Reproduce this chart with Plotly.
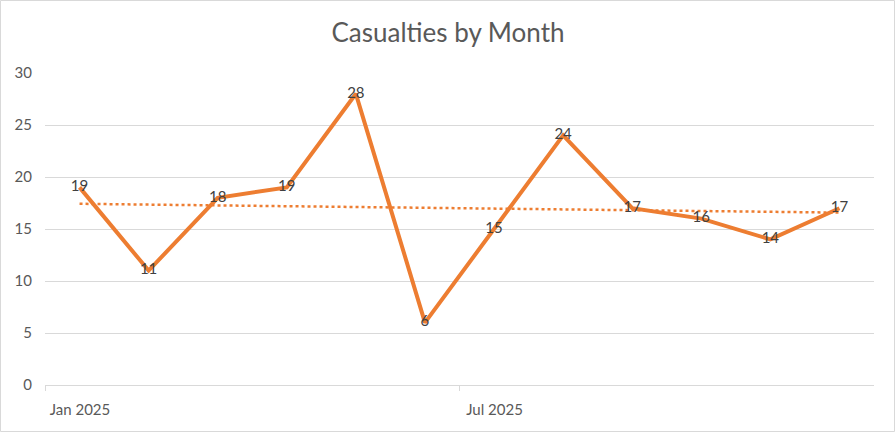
import numpy as np
import plotly.graph_objects as go

# monthly casualties, one slot per month like the source sheet
months = ['Jan 2025', 'Feb 2025', 'Mar 2025', 'Apr 2025', 'May 2025', 'Jun 2025',
          'Jul 2025', 'Aug 2025', 'Sep 2025', 'Oct 2025', 'Nov 2025', 'Dec 2025']
casualties = [19, 11, 18, 19, 28, 6, 15, 24, 17, 16, 14, 17]
tick_labels = ['Jan 2025', 'Jul 2025']

orange = '#ED7D31'
grey_text = '#595959'
grid = '#D9D9D9'

W, H = 896, 433
ml, mr, mt, mb = 45, 22, 73, 48
pw, ph = W - ml - mr, H - mt - mb

idx = np.arange(len(months))
# excel puts the tick mark at the start of the month slot, label in the middle
tick_pos = [months.index(t) - 0.5 for t in tick_labels]
slot = pw / len(months)

# linear trendline over the month index
slope, icpt = np.polyfit(idx, casualties, 1)
trend = slope * idx + icpt

fig = go.Figure()

fig.add_trace(go.Scatter(x=idx, y=trend, mode='lines',
    line=dict(color=orange, width=2.5, dash='dot'),
    hoverinfo='skip', showlegend=False))

fig.add_trace(go.Scatter(x=idx, y=casualties, mode='lines+text',
    text=[str(v) for v in casualties], textposition='middle center',
    textfont=dict(color='#404040', size=15, family='Lato'),
    line=dict(color=orange, width=4),
    hoverinfo='skip', showlegend=False))

fig.update_layout(
    width=W, height=H,
    margin=dict(l=ml, r=mr, t=mt, b=mb),
    paper_bgcolor='white', plot_bgcolor='white',
    font=dict(family='Lato', color=grey_text, size=15),
    title=dict(text='Casualties by Month', x=0.5, xanchor='center',
               y=1 - 33 / H, yanchor='middle',
               font=dict(size=26, color=grey_text, family='Lato')),
    xaxis=dict(range=[-0.5, len(months) - 0.5],
               tickvals=tick_pos, ticktext=tick_labels,
               ticklabelshift=int(round(slot / 2)), tickangle=0, automargin=False,
               ticks='outside', ticklen=5, tickcolor=grid,
               showline=True, linecolor=grid, linewidth=1,
               showgrid=False, zeroline=False, ticklabelstandoff=6,
               tickfont=dict(size=15, color=grey_text)),
    yaxis=dict(range=[0, 30], dtick=5, showgrid=True, gridcolor=grid, gridwidth=1,
               zeroline=False, showline=False, ticks='', ticklabelstandoff=12,
               automargin=False, tickfont=dict(size=15, color=grey_text)),
    shapes=[dict(type='rect', xref='paper', yref='paper',
                 x0=-(ml - 0.5) / pw, x1=1 + (mr - 1.5) / pw,
                 y0=-(mb - 1.5) / ph, y1=1 + (mt - 0.5) / ph,
                 line=dict(color=grid, width=1), layer='below')],
)

# drop the default page margin so the chart sits at the window's top-left
fig.write_html('out.html', config={'displayModeBar': False},
               post_script="document.body.style.margin='0';")
